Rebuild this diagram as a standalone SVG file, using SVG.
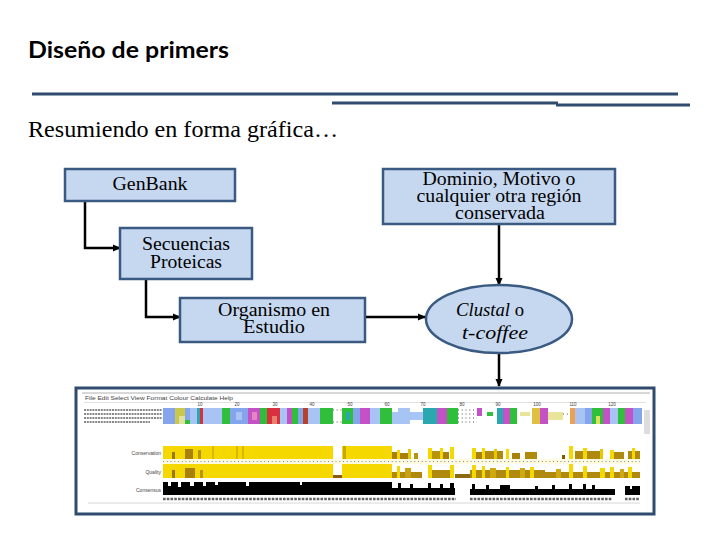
<svg xmlns="http://www.w3.org/2000/svg" width="720" height="540" viewBox="0 0 720 540">
<defs>
<style>
.box{fill:#c6d8f0;stroke:#3a5a82;stroke-width:2.5}
.t{font-family:"Liberation Serif","Times New Roman",serif;font-size:18px;fill:#000;text-anchor:middle}
.con{fill:none;stroke:#000;stroke-width:2.5}
.rule{stroke:#2f4b6e;stroke-width:3}
.sm{font-family:"Liberation Sans",Arial,sans-serif;fill:#444}
</style>
<marker id="ah" markerWidth="8" markerHeight="8" refX="7" refY="4" orient="auto" markerUnits="userSpaceOnUse">
<path d="M0,0.5 L8,4 L0,7.5 Z" fill="#000"/>
</marker>
</defs>
<rect width="720" height="540" fill="#fff"/>

<g id="header">
<text x="28" y="58" font-family="Lato,'Open Sans',sans-serif" font-weight="bold" font-size="22" fill="#000" textLength="201" lengthAdjust="spacingAndGlyphs">Diseño de primers</text>
<line class="rule" x1="32" y1="94" x2="678" y2="94"/>
<line class="rule" x1="332" y1="103" x2="558" y2="103"/>
<line class="rule" x1="556" y1="105" x2="690" y2="105"/>
<text x="28" y="137" font-family="'Liberation Serif','Times New Roman',serif" font-size="23" fill="#000" textLength="310" lengthAdjust="spacingAndGlyphs">Resumiendo en forma gráfica…</text>
</g>

<g id="connectors">
<path class="con" d="M85,201 V248 H120" marker-end="url(#ah)"/>
<path class="con" d="M146,279 V317 H180" marker-end="url(#ah)"/>
<path class="con" d="M365,317 H425" marker-end="url(#ah)"/>
<path class="con" d="M499,224 V285" marker-end="url(#ah)"/>
<path class="con" d="M499,353 V386" marker-end="url(#ah)"/>
</g>

<g id="genbank">
<rect class="box" x="65" y="169" width="170" height="32"/>
<text class="t" x="150" y="190" textLength="75" lengthAdjust="spacingAndGlyphs">GenBank</text>
</g>

<g id="secuencias">
<rect class="box" x="120" y="228" width="132" height="51"/>
<text class="t" x="186" y="250" textLength="88" lengthAdjust="spacingAndGlyphs">Secuencias</text>
<text class="t" x="186" y="268" textLength="72" lengthAdjust="spacingAndGlyphs">Proteicas</text>
</g>

<g id="organismo">
<rect class="box" x="180" y="298" width="185" height="44"/>
<text class="t" x="274" y="316" textLength="112" lengthAdjust="spacingAndGlyphs">Organismo en</text>
<text class="t" x="274" y="333" textLength="62" lengthAdjust="spacingAndGlyphs">Estudio</text>
</g>

<g id="dominio">
<rect class="box" x="383" y="169" width="232" height="55"/>
<text class="t" x="499" y="185" textLength="153" lengthAdjust="spacingAndGlyphs">Dominio, Motivo o</text>
<text class="t" x="499" y="202" textLength="165" lengthAdjust="spacingAndGlyphs">cualquier otra región</text>
<text class="t" x="500" y="219" textLength="90" lengthAdjust="spacingAndGlyphs">conservada</text>
</g>

<g id="clustal">
<ellipse class="box" cx="499" cy="319" rx="73" ry="34"/>
<text class="t" x="490" y="316" textLength="68" lengthAdjust="spacingAndGlyphs"><tspan font-style="italic">Clustal</tspan> o</text>
<text class="t" x="495" y="339" font-style="italic" textLength="66" lengthAdjust="spacingAndGlyphs">t-coffee</text>
</g>

<g id="screenshot">
<rect x="76" y="388" width="578" height="126" fill="#fff" stroke="#2f4b6e" stroke-width="3"/>
<rect x="82" y="392" width="568" height="2" fill="#d8d8d8"/>
<text class="sm" x="85" y="400" font-size="6" textLength="148" lengthAdjust="spacingAndGlyphs">File  Edit  Select  View  Format  Colour  Calculate  Help</text>
<rect x="84" y="402" width="562" height="0.6" fill="#ccc"/>
<g class="sm" font-size="4.5" text-anchor="middle">
<text x="200" y="406">10</text><text x="237" y="406">20</text><text x="275" y="406">30</text><text x="312" y="406">40</text>
<text x="350" y="406">50</text><text x="387" y="406">60</text><text x="423" y="406">70</text><text x="462" y="406">80</text>
<text x="498" y="406">90</text><text x="537" y="406">100</text><text x="573" y="406">110</text><text x="612" y="406">120</text>
</g>
<g stroke="#888" stroke-width="2" stroke-dasharray="2 0.8">
<line x1="84" y1="410" x2="162" y2="410"/>
<line x1="84" y1="414" x2="162" y2="414"/>
<line x1="84" y1="418" x2="162" y2="418"/>
<line x1="84" y1="422" x2="150" y2="422"/>
</g>
<g>
<rect x="163" y="408" width="12" height="16" fill="#84a4ec"/>
<rect x="175" y="408" width="10" height="16" fill="#c9c84a"/>
<rect x="179" y="416" width="6" height="8" fill="#e0e0a0"/>
<rect x="185" y="408" width="5" height="16" fill="#84a4ec"/>
<rect x="185" y="420" width="5" height="4" fill="#2fbf3a"/>
<rect x="190" y="408" width="7" height="16" fill="#a8c4f4"/>
<rect x="197" y="408" width="3" height="16" fill="#2aa8b0"/>
<rect x="200" y="408" width="3" height="16" fill="#d8303c"/>
<rect x="203" y="408" width="19" height="16" fill="#a8c4f4"/>
<rect x="222" y="408" width="8" height="16" fill="#2fbf3a"/>
<rect x="230" y="408" width="18" height="16" fill="#84a4ec"/>
<rect x="236" y="412" width="6" height="8" fill="#a8c4f4"/>
<rect x="248" y="408" width="12" height="16" fill="#c452c4"/>
<rect x="252" y="412" width="5" height="8" fill="#e884c0"/>
<rect x="260" y="408" width="7" height="16" fill="#2fbf3a"/>
<rect x="267" y="408" width="13" height="16" fill="#d8303c"/>
<rect x="272" y="416" width="5" height="8" fill="#e88070"/>
<rect x="280" y="408" width="7" height="16" fill="#a8c4f4"/>
<rect x="287" y="408" width="5" height="16" fill="#c452c4"/>
<rect x="292" y="408" width="6" height="16" fill="#2fbf3a"/>
<rect x="298" y="408" width="5" height="16" fill="#84a4ec"/>
<rect x="303" y="408" width="5" height="16" fill="#b8402c"/>
<rect x="308" y="408" width="12" height="16" fill="#a8c4f4"/>
<rect x="320" y="408" width="13" height="16" fill="#2fbf3a"/>
<rect x="342" y="408" width="11" height="16" fill="#2fbf3a"/>
<rect x="346" y="412" width="4" height="8" fill="#2aa8b0"/>
<rect x="353" y="408" width="7" height="16" fill="#84a4ec"/>
<rect x="360" y="408" width="10" height="16" fill="#c452c4"/>
<rect x="370" y="408" width="10" height="16" fill="#a8c4f4"/>
<rect x="380" y="408" width="12" height="16" fill="#2fbf3a"/>
<rect x="392" y="412" width="6" height="12" fill="#a8c4f4"/>
<rect x="398" y="408" width="12" height="16" fill="#a8c4f4"/>
<rect x="410" y="412" width="13" height="8" fill="#a8c4f4"/>
<rect x="423" y="408" width="14" height="16" fill="#2aa8b0"/>
<rect x="437" y="408" width="10" height="16" fill="#c452c4"/>
<rect x="447" y="408" width="11" height="16" fill="#2fbf3a"/>
<rect x="477" y="408" width="5" height="8" fill="#c452c4"/>
<rect x="487" y="412" width="6" height="4" fill="#2fbf3a"/>
<rect x="497" y="408" width="6" height="16" fill="#2aa8b0"/>
<rect x="503" y="408" width="7" height="16" fill="#c452c4"/>
<rect x="510" y="408" width="7" height="16" fill="#2fbf3a"/>
<rect x="520" y="412" width="10" height="4" fill="#e8e49a"/>
<rect x="532" y="408" width="8" height="16" fill="#e0c040"/>
<rect x="540" y="408" width="8" height="16" fill="#c452c4"/>
<rect x="548" y="412" width="15" height="8" fill="#e8e49a"/>
<rect x="570" y="408" width="5" height="16" fill="#eda050"/>
<rect x="575" y="408" width="10" height="16" fill="#a8c4f4"/>
<rect x="585" y="408" width="7" height="16" fill="#84a4ec"/>
<rect x="592" y="408" width="11" height="16" fill="#2fbf3a"/>
<rect x="596" y="416" width="4" height="8" fill="#e0e060"/>
<rect x="603" y="408" width="7" height="16" fill="#c452c4"/>
<rect x="610" y="408" width="8" height="16" fill="#a8c4f4"/>
<rect x="618" y="408" width="7" height="16" fill="#2fbf3a"/>
<rect x="625" y="408" width="8" height="16" fill="#c452c4"/>
<rect x="633" y="408" width="9" height="16" fill="#84a4ec"/>
</g>
<g stroke="#555" stroke-width="1" stroke-dasharray="1 2.75">
<line x1="333" y1="410" x2="342" y2="410"/><line x1="333" y1="422" x2="342" y2="422"/>
<line x1="458" y1="410" x2="477" y2="410"/><line x1="458" y1="414" x2="477" y2="414"/>
<line x1="458" y1="418" x2="477" y2="418"/><line x1="458" y1="422" x2="477" y2="422"/>
<line x1="563" y1="414" x2="570" y2="414"/>
</g>
<rect x="644" y="410" width="6" height="24" fill="#ddd"/>
<g class="sm" font-size="5" text-anchor="end">
<text x="161" y="455">Conservation</text>
<text x="161" y="474">Quality</text>
<text x="161" y="492">Consensus</text>
</g>
<g>
<rect x="163" y="446" width="170" height="13" fill="#f5d800"/>
<rect x="342" y="446" width="50" height="13" fill="#f5d800"/>
<rect x="172" y="452" width="3" height="7" fill="#9a7a10"/>
<rect x="185" y="449" width="8" height="10" fill="#a8800a"/>
<rect x="198" y="450" width="3" height="9" fill="#b89414"/>
<rect x="212" y="446" width="2" height="13" fill="#d8b800"/>
<rect x="236" y="446" width="2" height="13" fill="#d8b800"/>
<rect x="242" y="446" width="2" height="13" fill="#d8b800"/>
<rect x="343" y="446" width="3" height="13" fill="#c8a800"/>
<rect x="392" y="452" width="5" height="7" fill="#a8800a"/>
<rect x="397" y="450" width="3" height="9" fill="#f5d800"/>
<rect x="400" y="453" width="8" height="6" fill="#a8800a"/>
<rect x="408" y="449" width="3" height="10" fill="#e8c800"/>
<rect x="414" y="453" width="4" height="6" fill="#b8940a"/>
<rect x="428" y="448" width="4" height="11" fill="#f5d800"/>
<rect x="432" y="451" width="8" height="8" fill="#b8940a"/>
<rect x="440" y="448" width="3" height="11" fill="#f5d800"/>
<rect x="443" y="452" width="6" height="7" fill="#a8800a"/>
<rect x="450" y="447" width="4" height="12" fill="#f5d800"/>
<rect x="472" y="448" width="4" height="11" fill="#f5d800"/>
<rect x="476" y="452" width="6" height="7" fill="#a8800a"/>
<rect x="482" y="448" width="3" height="11" fill="#f5d800"/>
<rect x="485" y="451" width="18" height="8" fill="#b08a0e"/>
<rect x="494" y="449" width="3" height="10" fill="#e8c800"/>
<rect x="506" y="449" width="3" height="10" fill="#f5d800"/>
<rect x="512" y="453" width="8" height="6" fill="#a8800a"/>
<rect x="525" y="452" width="12" height="7" fill="#b08a0e"/>
<rect x="562" y="455" width="3" height="4" fill="#7a5a00"/>
<rect x="569" y="446" width="4" height="13" fill="#f5d800"/>
<rect x="575" y="451" width="8" height="8" fill="#b08a0e"/>
<rect x="583" y="448" width="4" height="11" fill="#f5d800"/>
<rect x="587" y="451" width="13" height="8" fill="#b08a0e"/>
<rect x="600" y="449" width="3" height="10" fill="#e8c800"/>
<rect x="610" y="450" width="4" height="9" fill="#f5d800"/>
<rect x="614" y="452" width="10" height="7" fill="#b08a0e"/>
<rect x="628" y="451" width="12" height="8" fill="#b08a0e"/>
<rect x="632" y="448" width="3" height="11" fill="#f5d800"/>
</g>
<rect x="163" y="459" width="477" height="5" fill="#fffbe0"/>
<line x1="163" y1="461.5" x2="640" y2="461.5" stroke="#888" stroke-width="1" stroke-dasharray="1 2.75"/>
<g>
<rect x="163" y="464" width="170" height="14" fill="#f5d800"/>
<rect x="342" y="464" width="50" height="14" fill="#f5d800"/>
<rect x="172" y="470" width="3" height="8" fill="#9a7a10"/>
<rect x="185" y="468" width="10" height="10" fill="#a8800a"/>
<rect x="200" y="470" width="3" height="8" fill="#b89414"/>
<rect x="333" y="475" width="9" height="3" fill="#8a5a10"/>
<rect x="392" y="472" width="30" height="6" fill="#b08a0e"/>
<rect x="397" y="466" width="3" height="12" fill="#f5d800"/>
<rect x="405" y="468" width="6" height="10" fill="#c8a010"/>
<rect x="428" y="465" width="4" height="13" fill="#f5d800"/>
<rect x="432" y="470" width="20" height="8" fill="#b08a0e"/>
<rect x="450" y="465" width="4" height="13" fill="#f5d800"/>
<rect x="455" y="474" width="15" height="4" fill="#8a6a10"/>
<rect x="470" y="470" width="75" height="8" fill="#b08a0e"/>
<rect x="472" y="465" width="4" height="13" fill="#f5d800"/>
<rect x="482" y="466" width="3" height="12" fill="#f5d800"/>
<rect x="490" y="468" width="6" height="10" fill="#d0a810"/>
<rect x="506" y="467" width="3" height="11" fill="#f5d800"/>
<rect x="520" y="468" width="5" height="10" fill="#d0a810"/>
<rect x="530" y="467" width="4" height="11" fill="#f5d800"/>
<rect x="545" y="472" width="95" height="6" fill="#b08a0e"/>
<rect x="556" y="469" width="5" height="9" fill="#d0a810"/>
<rect x="569" y="464" width="4" height="14" fill="#f5d800"/>
<rect x="583" y="466" width="4" height="12" fill="#f5d800"/>
<rect x="600" y="468" width="5" height="10" fill="#f5d800"/>
<rect x="610" y="467" width="4" height="11" fill="#f5d800"/>
<rect x="620" y="469" width="4" height="9" fill="#d0a810"/>
<rect x="628" y="467" width="4" height="11" fill="#f5d800"/>
</g>
<g fill="#000">
<rect x="163" y="482" width="229" height="13"/>
<rect x="392" y="488" width="63" height="7"/>
<rect x="398" y="483" width="3" height="12"/>
<rect x="410" y="484" width="3" height="11"/>
<rect x="428" y="483" width="3" height="12"/>
<rect x="440" y="484" width="3" height="11"/>
<rect x="450" y="483" width="4" height="12"/>
<rect x="470" y="489" width="145" height="6"/>
<rect x="472" y="484" width="3" height="11"/>
<rect x="486" y="485" width="3" height="10"/>
<rect x="500" y="485" width="10" height="10"/>
<rect x="535" y="486" width="3" height="9"/>
<rect x="552" y="485" width="3" height="10"/>
<rect x="569" y="484" width="3" height="11"/>
<rect x="583" y="484" width="3" height="11"/>
<rect x="592" y="485" width="3" height="10"/>
<rect x="625" y="486" width="15" height="9"/>
</g>
<g fill="#fff">
<rect x="168" y="482" width="3" height="4"/>
<rect x="178" y="482" width="3" height="5"/>
<rect x="190" y="482" width="4" height="4"/>
<rect x="203" y="482" width="3" height="4"/>
<rect x="215" y="482" width="3" height="3"/>
<rect x="246" y="482" width="3" height="4"/>
<rect x="300" y="482" width="2" height="3"/>
<rect x="630" y="486" width="2" height="3"/>
</g>
<g stroke="#666" stroke-width="2.5" stroke-dasharray="2.6 1.15">
<line x1="163" y1="499" x2="456" y2="499"/>
<line x1="470" y1="499" x2="612" y2="499"/>
<line x1="625" y1="499" x2="640" y2="499"/>
</g>
<line x1="88" y1="503" x2="640" y2="503" stroke="#ccc" stroke-width="0.8"/>
</g>
</svg>
